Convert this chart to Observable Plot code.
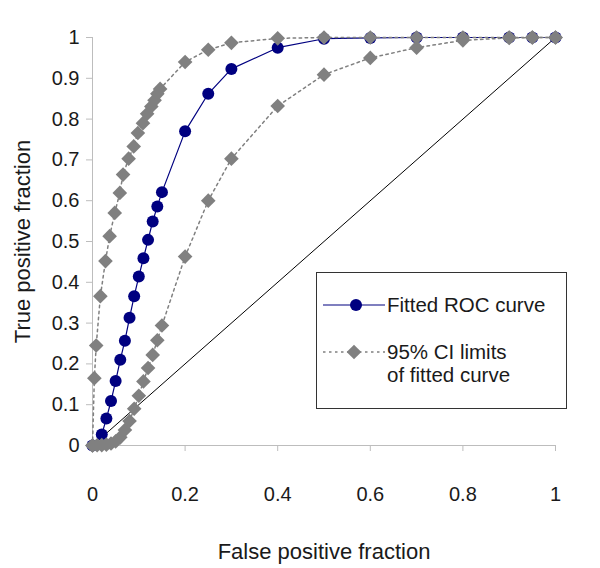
<!DOCTYPE html>
<html>
<head>
<meta charset="utf-8">
<script src="https://cdn.jsdelivr.net/npm/d3@7"></script>
<script src="https://cdn.jsdelivr.net/npm/@observablehq/plot@0.6"></script>
<style>
  html, body { margin: 0; padding: 0; background: #fff; }
  #wrap { position: relative; width: 600px; height: 568px; font-family: "Liberation Sans", Arial, sans-serif; }
  #legend { position: absolute; left: 0; top: 0; pointer-events: none; }
</style>
</head>
<body>
<div id="wrap"></div>
<script>
// ---- Data ----
const fittedX = [0, 0.02, 0.03, 0.04, 0.05, 0.06, 0.07, 0.08, 0.09, 0.10, 0.11, 0.12, 0.13, 0.14, 0.15, 0.2, 0.25, 0.3, 0.4, 0.5, 0.6, 0.7, 0.8, 0.9, 0.95, 1];
const fittedY = [0, 0.027, 0.066, 0.109, 0.158, 0.21, 0.257, 0.313, 0.366, 0.414, 0.459, 0.504, 0.549, 0.586, 0.621, 0.77, 0.862, 0.923, 0.975, 0.997, 0.999, 1, 1, 1, 1, 1];

const upperX = [0, 0.004, 0.008, 0.017, 0.028, 0.037, 0.048, 0.059, 0.066, 0.078, 0.089, 0.098, 0.109, 0.118, 0.127, 0.134, 0.14, 0.146, 0.2, 0.25, 0.3, 0.4, 0.5, 0.6, 0.7, 0.8, 0.9, 0.95, 1];
const upperY = [0, 0.165, 0.245, 0.366, 0.452, 0.513, 0.57, 0.619, 0.664, 0.703, 0.733, 0.766, 0.79, 0.813, 0.831, 0.846, 0.862, 0.874, 0.94, 0.97, 0.987, 0.998, 1, 1, 1, 1, 1, 1, 1];

const lowerX = [0, 0.01, 0.02, 0.03, 0.04, 0.05, 0.06, 0.07, 0.08, 0.09, 0.10, 0.11, 0.12, 0.13, 0.14, 0.15, 0.2, 0.25, 0.3, 0.4, 0.5, 0.6, 0.7, 0.8, 0.9, 0.95, 1];
const lowerY = [0, 0.0005, 0.001, 0.002, 0.005, 0.01, 0.02, 0.038, 0.06, 0.09, 0.122, 0.157, 0.19, 0.222, 0.258, 0.294, 0.463, 0.6, 0.703, 0.832, 0.909, 0.95, 0.975, 0.993, 0.999, 1, 1];

const diagX = [0, 1];
const diagY = [0, 1];

const xTicks = [0, 0.2, 0.4, 0.6, 0.8, 1];
const yTicks = [0, 0.1, 0.2, 0.3, 0.4, 0.5, 0.6, 0.7, 0.8, 0.9, 1];

const xTitle = "False positive fraction";
const yTitle = "True positive fraction";
const legendLabels = ["Fitted ROC curve", "95% CI limits", "of fitted curve"];

// ---- Build tables ----
const zip = (xs, ys) => xs.map((x, i) => ({x, y: ys[i]}));
const fitted = zip(fittedX, fittedY);
const upper = zip(upperX, upperY);
const lower = zip(lowerX, lowerY);
const diag = zip(diagX, diagY);

const navy = "#000080";
const gray = "#808080";
const axisGray = "#bdbdbd";
const textColor = "#1a1a1a";

const chart = Plot.plot({
  width: 600,
  height: 568,
  marginLeft: 92,
  marginRight: 45,
  marginTop: 37,
  marginBottom: 123,
  style: {fontFamily: "Liberation Sans, Arial, sans-serif", fontSize: "20px", color: textColor, background: "#fff"},
  x: {domain: [0, 1]},
  y: {domain: [0, 1]},
  marks: [
    Plot.ruleY([0], {stroke: axisGray, strokeWidth: 1}),
    Plot.ruleX([0], {stroke: axisGray, strokeWidth: 1}),
    Plot.axisX({ticks: xTicks, tickSize: 6, tickPadding: 35, stroke: axisGray, tickFormat: d => String(d), label: null, fill: textColor}),
    Plot.axisY({ticks: yTicks, tickSize: 6, tickPadding: 7, stroke: axisGray, tickFormat: d => String(d), label: null, fill: textColor}),
    Plot.line(diag, {x: "x", y: "y", stroke: "#000", strokeWidth: 1}),
    Plot.line(fitted, {x: "x", y: "y", stroke: navy, strokeWidth: 1.2}),
    Plot.dot(fitted, {x: "x", y: "y", r: 6, fill: navy, stroke: "none"}),
    Plot.line(upper, {x: "x", y: "y", stroke: gray, strokeWidth: 1.5, strokeDasharray: "2.5,3.5"}),
    Plot.line(lower, {x: "x", y: "y", stroke: gray, strokeWidth: 1.5, strokeDasharray: "2.5,3.5"}),
    Plot.dot(upper, {x: "x", y: "y", r: 6.6, symbol: "diamond2", fill: gray, stroke: "none"}),
    Plot.dot(lower, {x: "x", y: "y", r: 6.6, symbol: "diamond2", fill: gray, stroke: "none"}),
    Plot.text([xTitle], {frameAnchor: "bottom", dy: 106, lineAnchor: "middle", textAnchor: "middle", fill: textColor, fontSize: 22}),
    Plot.text([yTitle], {frameAnchor: "left", dx: -70, rotate: -90, lineAnchor: "middle", textAnchor: "middle", fill: textColor, fontSize: 22})
  ]
});

const wrap = document.getElementById("wrap");
wrap.appendChild(chart);

// ---- Legend overlay ----
const leg = d3.select(wrap).append("svg")
  .attr("id", "legend")
  .attr("width", 600).attr("height", 568)
  .attr("font-family", "Liberation Sans, Arial, sans-serif")
  .attr("font-size", 20.5)
  .attr("fill", textColor);

leg.append("rect").attr("x", 316.5).attr("y", 272.5).attr("width", 250).attr("height", 136)
  .attr("fill", "#fff").attr("stroke", "#333").attr("stroke-width", 1);

// item 1
leg.append("line").attr("x1", 323).attr("x2", 385).attr("y1", 305).attr("y2", 305)
  .attr("stroke", navy).attr("stroke-width", 1.2);
leg.append("circle").attr("cx", 356).attr("cy", 305).attr("r", 6).attr("fill", navy);
leg.append("text").attr("x", 387).attr("y", 305).attr("dy", "0.35em").text(legendLabels[0]);

// item 2
leg.append("line").attr("x1", 323).attr("x2", 385).attr("y1", 352).attr("y2", 352)
  .attr("stroke", gray).attr("stroke-width", 1.5).attr("stroke-dasharray", "2.5,3.5");
leg.append("path").attr("d", d3.symbol(d3.symbolDiamond2, Math.PI * 6.6 * 6.6)())
  .attr("transform", "translate(354,352)").attr("fill", gray);
leg.append("text").attr("x", 387).attr("y", 352).attr("dy", "0.35em").text(legendLabels[1]);
leg.append("text").attr("x", 387).attr("y", 375).attr("dy", "0.35em").text(legendLabels[2]);
</script>
</body>
</html>
